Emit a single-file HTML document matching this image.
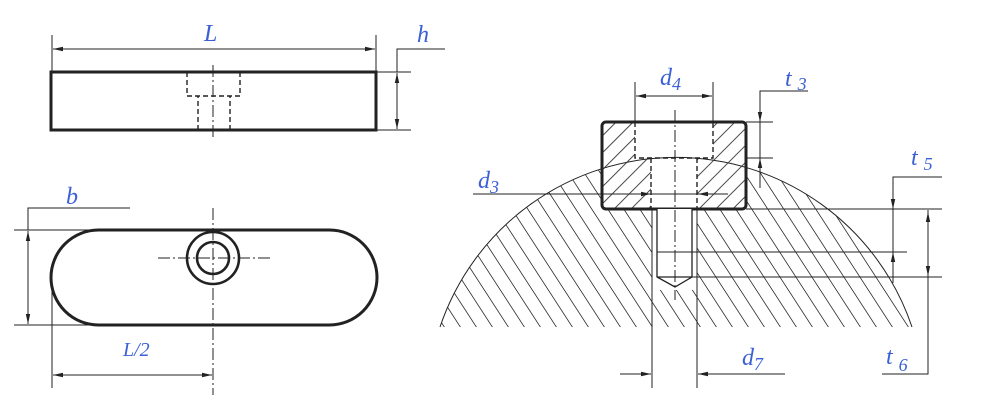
<!DOCTYPE html>
<html><head><style>
html,body{margin:0;padding:0;background:#fff;}
svg{display:block;}
.l{font-family:"Liberation Serif",serif;font-style:italic;fill:#3a5fd6;}
</style></head><body>
<svg width="1000" height="400" viewBox="0 0 1000 400" xmlns="http://www.w3.org/2000/svg">
<defs>
<marker id="a" viewBox="0 0 10 6" refX="10" refY="3" markerWidth="10" markerHeight="6" orient="auto-start-reverse" markerUnits="userSpaceOnUse"><path d="M0,0.8 L10,3 L0,5.2z" fill="#222"/></marker>
<pattern id="h1" patternUnits="userSpaceOnUse" width="16" height="400" patternTransform="skewX(33)"><line x1="8" y1="0" x2="8" y2="400" stroke="#333" stroke-width="1"/></pattern>
<pattern id="h2" patternUnits="userSpaceOnUse" width="12" height="12" patternTransform="rotate(45)"><line x1="6" y1="0" x2="6" y2="12" stroke="#333" stroke-width="0.9"/></pattern>
<clipPath id="c1"><path d="M440,327 A249,249 0 0 1 912,327 Z"/></clipPath>
</defs>
<g stroke="#222" fill="none">
<rect x="51" y="72" width="325" height="58" stroke-width="3"/>
<path d="M187,72 V96 H240 V72 M198,130 V96 M230,130 V96" stroke-width="1.4" stroke-dasharray="5,3"/>
<path d="M213,65 V138" stroke-width="1" stroke-dasharray="12,3,2,3"/>
<path d="M52,35 V72 M376,35 V72" stroke-width="1"/>
<path d="M53,49 H375" stroke-width="1" marker-start="url(#a)" marker-end="url(#a)"/>
<path d="M376,72 H411 M376,130 H411 M445,49 H397 V72" stroke-width="1"/>
<path d="M397,73 V129" stroke-width="1" marker-start="url(#a)" marker-end="url(#a)"/>
<rect x="51" y="230" width="326" height="95" rx="47.5" stroke-width="3"/>
<circle cx="213" cy="258" r="26" stroke-width="2.6"/>
<circle cx="213" cy="258" r="16" stroke-width="2.6"/>
<path d="M158,258 H270 M213,208 V395" stroke-width="1" stroke-dasharray="12,3,2,3"/>
<path d="M14,230 H90 M14,325 H90 M130,208 H28 V230" stroke-width="1"/>
<path d="M28,231 V324" stroke-width="1" marker-start="url(#a)" marker-end="url(#a)"/>
<path d="M52,270 V388" stroke-width="1"/>
<path d="M53,375 H212" stroke-width="1" marker-start="url(#a)" marker-end="url(#a)"/>
<g clip-path="url(#c1)"><path d="M430,150 H930 V330 H430 Z M652,209 V290 H697 V209 Z" fill="url(#h1)" fill-rule="evenodd" stroke="none"/></g>
<rect x="602" y="122" width="144" height="87" fill="#fff" stroke="none"/>
<path d="M440,327 A249,249 0 0 1 912,327" stroke-width="1"/>
<path d="M602,122 H635 V158 H651 V209 H602 Z M746,122 H713 V158 H697 V209 H746 Z" fill="url(#h2)" stroke="none"/>
<rect x="602" y="122" width="144" height="87" rx="4" stroke-width="3"/>
<path d="M635,122 V158 H713 V122 M651,158 V209 M697,158 V209" stroke-width="1.4" stroke-dasharray="5,3"/>
<path d="M657,209 V277 L675,287 L692,277 V209 M657,277 H692" stroke-width="1.3" fill="#fff"/>
<path d="M652,209 V388 M697,209 V388" stroke-width="1"/>
<path d="M675,110 V300" stroke-width="1" stroke-dasharray="12,3,2,3"/>
<path d="M635,82 V122 M713,82 V122" stroke-width="1"/>
<path d="M636,96 H712" stroke-width="1" marker-start="url(#a)" marker-end="url(#a)"/>
<path d="M808,91 H760 V188 M746,122 H773 M746,158 H773" stroke-width="1"/>
<path d="M760,104 V122" stroke-width="1" marker-end="url(#a)"/>
<path d="M760,176 V158" stroke-width="1" marker-end="url(#a)"/>
<path d="M473,194 H728" stroke-width="1"/>
<path d="M630,194 H651" stroke-width="1" marker-end="url(#a)"/>
<path d="M718,194 H698" stroke-width="1" marker-end="url(#a)"/>
<path d="M746,209 H942 M692,277 H942 M657,252 H907" stroke-width="1"/>
<path d="M942,177 H893 V283" stroke-width="1"/>
<path d="M893,190 V209" stroke-width="1" marker-end="url(#a)"/>
<path d="M893,270 V252" stroke-width="1" marker-end="url(#a)"/>
<path d="M882,374 H928 V210" stroke-width="1"/>
<path d="M928,212 V276" stroke-width="1" marker-start="url(#a)" marker-end="url(#a)"/>
<path d="M620,374 H651" stroke-width="1" marker-end="url(#a)"/>
<path d="M785,374 H698" stroke-width="1" marker-end="url(#a)"/>
</g>
<g class="l">
<text x="204" y="41" font-size="24">L</text>
<text x="417" y="42" font-size="24">h</text>
<text x="66" y="204" font-size="24">b</text>
<text x="123" y="356" font-size="20">L/2</text>
<text x="660" y="85" font-size="24">d<tspan font-size="18" dy="5">4</tspan></text>
<text x="785" y="86" font-size="24">t <tspan font-size="18" dy="4">3</tspan></text>
<text x="478" y="188" font-size="24">d<tspan font-size="18" dy="5">3</tspan></text>
<text x="911" y="165" font-size="24">t <tspan font-size="18" dy="5">5</tspan></text>
<text x="742" y="365" font-size="24">d<tspan font-size="18" dy="5">7</tspan></text>
<text x="886" y="364" font-size="24">t <tspan font-size="18" dy="7">6</tspan></text>
</g>
</svg>
</body></html>
